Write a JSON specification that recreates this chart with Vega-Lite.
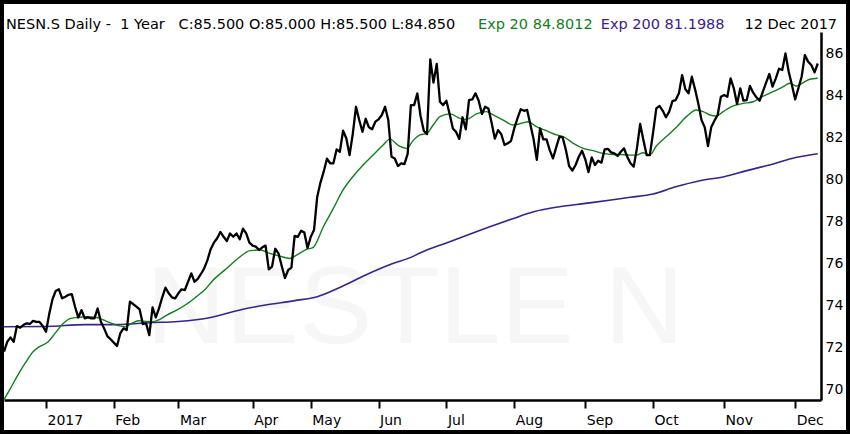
{
  "$schema": "https://vega.github.io/schema/vega-lite/v6.json",
  "width": 842,
  "height": 426,
  "autosize": {"type": "none"},
  "padding": 4,
  "background": "black",
  "config": {
    "font": "DejaVu Sans",
    "view": {"fill": "white", "stroke": null},
    "axis": {
      "grid": false,
      "domainColor": "black",
      "domainWidth": 2.5,
      "tickColor": "black",
      "labelFontSize": 14,
      "labelColor": "black",
      "labelFlush": false,
      "labelOverlap": false
    },
    "axisX": {"tickWidth": 2, "tickSize": 8, "labelAlign": "left", "labelBaseline": "top", "labelOffset": 1, "labelPadding": 5},
    "axisY": {"ticks": false, "labelAlign": "left", "labelBaseline": "middle", "labelPadding": 4}
  },
  "datasets": {
    "close": [
      {"t":0,"v":71.78},{"t":1,"v":72.25},{"t":2,"v":72.46},{"t":3,"v":72.25},{"t":4,"v":73.0},{"t":5,"v":72.92},{"t":6,"v":73.05},{"t":7,"v":73.13},{"t":8,"v":73.1},{"t":9,"v":73.25},
      {"t":10,"v":73.2},{"t":11,"v":73.2},{"t":12,"v":73.0},{"t":13,"v":72.73},{"t":14,"v":73.57},{"t":15,"v":74.27},{"t":16,"v":74.67},{"t":17,"v":74.75},{"t":18,"v":74.32},{"t":19,"v":74.4},
      {"t":20,"v":74.49},{"t":21,"v":74.52},{"t":22,"v":73.92},{"t":23,"v":73.41},{"t":24,"v":73.76},{"t":25,"v":73.37},{"t":26,"v":73.41},{"t":27,"v":73.37},{"t":28,"v":73.37},{"t":29,"v":73.84},
      {"t":30,"v":73.21},{"t":31,"v":72.89},{"t":32,"v":72.52},{"t":33,"v":72.37},{"t":34,"v":72.21},{"t":35,"v":72.05},{"t":36,"v":72.65},{"t":37,"v":72.89},{"t":38,"v":72.81},{"t":39,"v":74.16},
      {"t":40,"v":74.05},{"t":41,"v":73.92},{"t":42,"v":73.79},{"t":43,"v":73.1},{"t":44,"v":73.13},{"t":45,"v":72.57},{"t":46,"v":73.89},{"t":47,"v":73.41},{"t":48,"v":73.84},{"t":49,"v":74.37},
      {"t":50,"v":74.83},{"t":51,"v":74.56},{"t":52,"v":74.37},{"t":53,"v":74.32},{"t":54,"v":74.56},{"t":55,"v":74.75},{"t":56,"v":74.71},{"t":57,"v":75.11},{"t":58,"v":75.51},{"t":59,"v":75.11},
      {"t":60,"v":75.25},{"t":61,"v":75.48},{"t":62,"v":75.75},{"t":63,"v":76.14},{"t":64,"v":76.66},{"t":65,"v":76.97},{"t":66,"v":77.18},{"t":67,"v":77.48},{"t":68,"v":77.25},{"t":69,"v":77.05},
      {"t":70,"v":77.41},{"t":71,"v":77.25},{"t":72,"v":77.41},{"t":73,"v":77.13},{"t":74,"v":77.64},{"t":75,"v":77.41},{"t":76,"v":76.97},{"t":77,"v":76.83},{"t":78,"v":76.78},{"t":79,"v":76.62},
      {"t":80,"v":76.75},{"t":81,"v":76.83},{"t":82,"v":75.7},{"t":83,"v":75.83},{"t":84,"v":76.68},{"t":85,"v":76.46},{"t":86,"v":75.86},{"t":87,"v":75.29},{"t":88,"v":75.67},{"t":89,"v":75.78},
      {"t":90,"v":77.29},{"t":91,"v":77.25},{"t":92,"v":77.54},{"t":93,"v":77.45},{"t":94,"v":76.72},{"t":95,"v":77.25},{"t":96,"v":77.57},{"t":97,"v":79.16},{"t":98,"v":79.83},{"t":99,"v":80.35},
      {"t":100,"v":80.97},{"t":101,"v":80.75},{"t":102,"v":80.75},{"t":103,"v":81.41},{"t":104,"v":81.3},{"t":105,"v":82.3},{"t":106,"v":81.94},{"t":107,"v":81.14},{"t":108,"v":82.14},{"t":109,"v":83.44},
      {"t":110,"v":82.81},{"t":111,"v":82.25},{"t":112,"v":82.87},{"t":113,"v":82.46},{"t":114,"v":82.37},{"t":115,"v":82.73},{"t":116,"v":82.84},{"t":117,"v":83.05},{"t":118,"v":83.44},{"t":119,"v":82.81},
      {"t":120,"v":81.06},{"t":121,"v":80.98},{"t":122,"v":80.62},{"t":123,"v":80.75},{"t":124,"v":80.71},{"t":125,"v":81.2},{"t":126,"v":83.52},{"t":127,"v":83.52},{"t":128,"v":84.08},{"t":129,"v":83.0},
      {"t":130,"v":82.3},{"t":131,"v":82.14},{"t":132,"v":85.7},{"t":133,"v":84.59},{"t":134,"v":85.48},{"t":135,"v":83.68},{"t":136,"v":83.52},{"t":137,"v":83.73},{"t":138,"v":83.1},{"t":139,"v":82.41},
      {"t":140,"v":82.24},{"t":141,"v":81.91},{"t":142,"v":82.94},{"t":143,"v":82.37},{"t":144,"v":83.76},{"t":145,"v":83.79},{"t":146,"v":84.08},{"t":147,"v":83.73},{"t":148,"v":83.1},{"t":149,"v":83.44},
      {"t":150,"v":83.36},{"t":151,"v":82.68},{"t":152,"v":81.92},{"t":153,"v":82.33},{"t":154,"v":82.13},{"t":155,"v":81.62},{"t":156,"v":81.7},{"t":157,"v":81.81},{"t":158,"v":82.41},{"t":159,"v":82.89},
      {"t":160,"v":83.32},{"t":161,"v":83.25},{"t":162,"v":83.29},{"t":163,"v":82.6},{"t":164,"v":81.89},{"t":165,"v":80.91},{"t":166,"v":82.41},{"t":167,"v":81.89},{"t":168,"v":81.89},{"t":169,"v":81.38},
      {"t":170,"v":80.98},{"t":171,"v":81.51},{"t":172,"v":82.02},{"t":173,"v":81.98},{"t":174,"v":81.38},{"t":175,"v":80.62},{"t":176,"v":80.4},{"t":177,"v":80.67},{"t":178,"v":81.06},{"t":179,"v":81.35},
      {"t":180,"v":80.94},{"t":181,"v":80.33},{"t":182,"v":81.03},{"t":183,"v":80.67},{"t":184,"v":80.87},{"t":185,"v":80.78},{"t":186,"v":81.41},{"t":187,"v":81.44},{"t":188,"v":81.27},{"t":189,"v":81.22},
      {"t":190,"v":81.1},{"t":191,"v":81.3},{"t":192,"v":81.46},{"t":193,"v":81.06},{"t":194,"v":80.75},{"t":195,"v":80.59},{"t":196,"v":81.46},{"t":197,"v":82.62},{"t":198,"v":81.86},{"t":199,"v":81.14},
      {"t":200,"v":81.14},{"t":201,"v":82.21},{"t":202,"v":83.36},{"t":203,"v":83.48},{"t":204,"v":83.25},{"t":205,"v":82.94},{"t":206,"v":83.21},{"t":207,"v":83.71},{"t":208,"v":83.76},{"t":209,"v":84.08},
      {"t":210,"v":84.95},{"t":211,"v":84.27},{"t":212,"v":84.08},{"t":213,"v":84.87},{"t":214,"v":84.27},{"t":215,"v":83.6},{"t":216,"v":82.81},{"t":217,"v":82.46},{"t":218,"v":81.57},{"t":219,"v":82.46},
      {"t":220,"v":82.78},{"t":221,"v":83.05},{"t":222,"v":83.92},{"t":223,"v":84.0},{"t":224,"v":83.92},{"t":225,"v":84.79},{"t":226,"v":84.32},{"t":227,"v":83.57},{"t":228,"v":84.32},{"t":229,"v":83.73},
      {"t":230,"v":83.76},{"t":231,"v":84.43},{"t":232,"v":84.11},{"t":233,"v":83.89},{"t":234,"v":83.73},{"t":235,"v":84.16},{"t":236,"v":84.59},{"t":237,"v":85.0},{"t":238,"v":84.4},{"t":239,"v":84.79},
      {"t":240,"v":85.25},{"t":241,"v":85.19},{"t":242,"v":85.98},{"t":243,"v":85.11},{"t":244,"v":84.48},{"t":245,"v":83.79},{"t":246,"v":84.32},{"t":247,"v":84.87},{"t":248,"v":85.9},{"t":249,"v":85.59},
      {"t":250,"v":85.43},{"t":251,"v":85.08},{"t":252,"v":85.5}
    ],
    "exp20": [
      {"t":0,"v":69.5},{"t":2,"v":70.03},{"t":4,"v":70.59},{"t":6.5,"v":71.22},{"t":9,"v":71.78},{"t":11,"v":72.02},{"t":13.7,"v":72.25},{"t":15.8,"v":72.65},{"t":18.4,"v":73.13},{"t":20.4,"v":73.35},
      {"t":22.5,"v":73.41},{"t":25.6,"v":73.44},{"t":28.7,"v":73.41},{"t":30.8,"v":73.29},{"t":32.8,"v":73.16},{"t":35.4,"v":73.02},{"t":37.5,"v":72.97},{"t":39.5,"v":73.13},{"t":41.6,"v":73.25},{"t":44.2,"v":73.22},
      {"t":46.2,"v":73.21},{"t":48.3,"v":73.32},{"t":50.4,"v":73.52},{"t":53.5,"v":73.76},{"t":56.6,"v":74.05},{"t":59.6,"v":74.4},{"t":62,"v":74.7},{"t":64.8,"v":75.19},{"t":69,"v":75.75},{"t":73.1,"v":76.3},
      {"t":76.2,"v":76.59},{"t":79.3,"v":76.62},{"t":82.3,"v":76.46},{"t":85.4,"v":76.33},{"t":88.5,"v":76.22},{"t":90.6,"v":76.38},{"t":93.7,"v":76.65},{"t":95.8,"v":76.75},{"t":98.9,"v":77.73},{"t":102,"v":78.6},
      {"t":105,"v":79.48},{"t":108,"v":80.11},{"t":111.2,"v":80.67},{"t":114.3,"v":81.14},{"t":117.4,"v":81.62},{"t":119.5,"v":81.9},{"t":122.3,"v":81.58},{"t":124.8,"v":81.46},{"t":126.7,"v":81.84},{"t":128.8,"v":82.1},
      {"t":130.9,"v":82.17},{"t":132.9,"v":82.57},{"t":135,"v":82.97},{"t":138.1,"v":83.1},{"t":141.2,"v":82.89},{"t":143.2,"v":82.84},{"t":146.3,"v":83.1},{"t":149.4,"v":83.21},{"t":151.5,"v":83.05},{"t":154.6,"v":82.81},
      {"t":157.7,"v":82.57},{"t":160.8,"v":82.68},{"t":162.3,"v":82.73},{"t":164.9,"v":82.49},{"t":168,"v":82.3},{"t":171.1,"v":82.1},{"t":173.2,"v":82.02},{"t":176.3,"v":81.7},{"t":179.4,"v":81.46},{"t":182.5,"v":81.35},
      {"t":185.5,"v":81.22},{"t":188.6,"v":81.17},{"t":190.7,"v":81.17},{"t":193.8,"v":81.14},{"t":195.9,"v":81.14},{"t":197.9,"v":81.25},{"t":200,"v":81.14},{"t":202,"v":81.57},{"t":205.1,"v":82.02},{"t":208.2,"v":82.46},
      {"t":211.3,"v":82.97},{"t":214.4,"v":83.29},{"t":216.5,"v":83.21},{"t":218.6,"v":83.05},{"t":220.6,"v":83.0},{"t":222.7,"v":83.21},{"t":225.8,"v":83.48},{"t":228.9,"v":83.6},{"t":232,"v":83.68},{"t":235.1,"v":83.95},
      {"t":238.2,"v":84.16},{"t":241.3,"v":84.4},{"t":243.3,"v":84.56},{"t":245.4,"v":84.43},{"t":247.5,"v":84.59},{"t":249.5,"v":84.75},{"t":252,"v":84.8}
    ],
    "exp200": [
      {"t":0,"v":72.97},{"t":13,"v":72.98},{"t":25,"v":73.07},{"t":35,"v":73.07},{"t":45,"v":73.16},{"t":54,"v":73.22},{"t":64,"v":73.41},{"t":74,"v":73.8},{"t":81,"v":74.0},{"t":90,"v":74.21},
      {"t":97,"v":74.4},{"t":104,"v":74.84},{"t":112,"v":75.43},{"t":120,"v":75.95},{"t":126,"v":76.27},{"t":129,"v":76.49},{"t":137,"v":76.96},{"t":145,"v":77.42},{"t":150,"v":77.7},{"t":157,"v":78.08},
      {"t":164,"v":78.44},{"t":172,"v":78.68},{"t":180,"v":78.84},{"t":188,"v":79.0},{"t":194,"v":79.13},{"t":201,"v":79.29},{"t":208,"v":79.63},{"t":215.5,"v":79.92},{"t":223,"v":80.11},{"t":230,"v":80.4},
      {"t":237,"v":80.67},{"t":244,"v":80.98},{"t":252,"v":81.2}
    ]
  },
  "layer": [
    {
      "data": {"values": [{}]},
      "mark": {"type": "text", "text": "NESTLE N", "font": "Liberation Sans", "fontSize": 110, "color": "#f6f6f6", "align": "center", "baseline": "alphabetic"},
      "encoding": {
        "x": {"datum": 127.3, "type": "quantitative"},
        "y": {"datum": 72.19, "type": "quantitative"}
      }
    },
    {
      "data": {"name": "exp200"},
      "mark": {"type": "line", "color": "#3a2192", "strokeWidth": 1.6, "interpolate": "monotone"},
      "encoding": {
        "x": {"field": "t", "type": "quantitative"},
        "y": {"field": "v", "type": "quantitative"}
      }
    },
    {
      "data": {"name": "exp20"},
      "mark": {"type": "line", "color": "#12801a", "strokeWidth": 1.4, "interpolate": "monotone"},
      "encoding": {
        "x": {"field": "t", "type": "quantitative"},
        "y": {"field": "v", "type": "quantitative"}
      }
    },
    {
      "data": {"name": "close"},
      "mark": {"type": "line", "color": "black", "strokeWidth": 2.3, "strokeJoin": "round"},
      "encoding": {
        "x": {
          "field": "t",
          "type": "quantitative",
          "scale": {"domain": [0, 253], "range": [0, 817], "nice": false, "zero": false},
          "axis": {
            "orient": "bottom",
            "offset": -30,
            "title": null,
            "values": [13, 34, 54, 77, 95, 116, 137, 158, 180, 201, 223, 245],
            "labelExpr": "['2017','Feb','Mar','Apr','May','Jun','Jul','Aug','Sep','Oct','Nov','Dec'][indexof([13,34,54,77,95,116,137,158,180,201,223,245], datum.value)]"
          }
        },
        "y": {
          "field": "v",
          "type": "quantitative",
          "scale": {"domain": [69.48, 87.0], "range": [396, 28], "nice": false, "zero": false},
          "axis": {
            "orient": "right",
            "offset": -25,
            "title": null,
            "values": [70, 72, 74, 76, 78, 80, 82, 84, 86]
          }
        }
      }
    },
    {
      "data": {"values": [{}]},
      "mark": {"type": "text", "text": "NESN.S Daily -\u00a0 1 Year\u00a0\u00a0 C:85.500 O:85.000 H:85.500 L:84.850", "fontSize": 14.5, "color": "black", "align": "left", "baseline": "alphabetic"},
      "encoding": {
        "x": {"datum": 0.62, "type": "quantitative"},
        "y": {"datum": 87.12, "type": "quantitative"}
      }
    },
    {
      "data": {"values": [{}]},
      "mark": {"type": "text", "text": "Exp 20 84.8012", "fontSize": 14.5, "color": "#12801a", "align": "left", "baseline": "alphabetic"},
      "encoding": {
        "x": {"datum": 146.8, "type": "quantitative"},
        "y": {"datum": 87.12, "type": "quantitative"}
      }
    },
    {
      "data": {"values": [{}]},
      "mark": {"type": "text", "text": "Exp 200 81.1988", "fontSize": 14.5, "color": "#3a2192", "align": "left", "baseline": "alphabetic"},
      "encoding": {
        "x": {"datum": 184.8, "type": "quantitative"},
        "y": {"datum": 87.12, "type": "quantitative"}
      }
    },
    {
      "data": {"values": [{}]},
      "mark": {"type": "text", "text": "12 Dec 2017", "fontSize": 14.5, "color": "black", "align": "left", "baseline": "alphabetic"},
      "encoding": {
        "x": {"datum": 229.3, "type": "quantitative"},
        "y": {"datum": 87.12, "type": "quantitative"}
      }
    }
  ]
}
